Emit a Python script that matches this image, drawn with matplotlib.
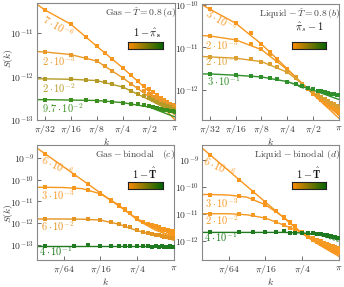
import numpy as np
import matplotlib
matplotlib.use('Agg')
import matplotlib.pyplot as plt
from matplotlib.colors import LinearSegmentedColormap
from matplotlib.ticker import FixedLocator, FixedFormatter, FuncFormatter, NullLocator, LogLocator

plt.rcParams['mathtext.fontset'] = 'cm'
plt.rcParams['font.family'] = 'serif'
plt.rcParams['font.size'] = 7

# k in units of pi, S(k) as log10 values
n_ab = np.array([1, 2, 3, 4, 5, 6, 8, 10, 12, 14, 16, 18, 20, 22, 24, 26, 28, 30, 32])
k_ab = n_ab / 32
n_cd = np.array([1, 3, 5, 8, 12, 16, 20, 24, 32, 40, 48, 56, 64, 72, 80, 88, 96, 104, 112, 120, 128])
k_cd = n_cd / 128
kline_ab = [2**-5.3, 1/32, 1/16, 1/8, 1/4, 1/2, 1]
kline_cd = [2**-7.45, 1/128, 1/64, 1/32, 1/16, 1/8, 1/4, 1/2, 1]

# panel (a) gas, T=0.8
Sa = [[-10.46, -10.79, -11.09, -11.30, -11.46, -11.59, -11.80, -11.97, -12.10, -12.21, -12.29, -12.36, -12.43, -12.49, -12.54, -12.59, -12.64, -12.68, -12.72],
      [-11.43, -11.49, -11.56, -11.64, -11.76, -11.87, -12.03, -12.16, -12.26, -12.34, -12.41, -12.46, -12.50, -12.54, -12.57, -12.60, -12.63, -12.65, -12.67],
      [-12.05, -12.06, -12.07, -12.09, -12.13, -12.17, -12.24, -12.32, -12.39, -12.45, -12.50, -12.54, -12.58, -12.62, -12.65, -12.68, -12.71, -12.74, -12.77],
      [-12.53, -12.54, -12.54, -12.55, -12.56, -12.58, -12.60, -12.62, -12.64, -12.66, -12.68, -12.70, -12.72, -12.74, -12.76, -12.77, -12.79, -12.80, -12.81]]
Sa_fit = [[-10.33, -10.46, -10.79, -11.30, -11.80, -12.34, -13.00],
          [-11.42, -11.43, -11.49, -11.64, -12.03, -12.46, -12.88],
          [-12.05, -12.05, -12.06, -12.09, -12.24, -12.53, -12.84],
          [-12.53, -12.53, -12.54, -12.55, -12.60, -12.70, -12.93]]
labels_a = [r'$\mathbf{7\cdot10^{-6}}$', r'$\mathbf{2\cdot10^{-3}}$', r'$\mathbf{2\cdot10^{-2}}$', r'$\mathbf{9.7\cdot10^{-2}}$']

# panel (b) liquid, T=0.8
Sb = [[-10.10, -10.43, -10.67, -10.92, -11.11, -11.28, -11.50, -11.69, -11.85, -11.98, -12.08, -12.16, -12.23, -12.29, -12.35, -12.40, -12.44, -12.49, -12.54],
      [-10.73, -10.82, -10.92, -11.03, -11.15, -11.31, -11.52, -11.70, -11.85, -11.97, -12.06, -12.14, -12.20, -12.26, -12.31, -12.36, -12.40, -12.44, -12.48],
      [-11.22, -11.25, -11.28, -11.33, -11.39, -11.46, -11.58, -11.72, -11.85, -11.95, -12.03, -12.09, -12.15, -12.20, -12.25, -12.29, -12.33, -12.37, -12.40],
      [-11.62, -11.65, -11.67, -11.69, -11.72, -11.75, -11.80, -11.86, -11.91, -11.95, -11.98, -12.01, -12.03, -12.05, -12.07, -12.08, -12.09, -12.11, -12.12]]
Sb_fit = [[-10.00, -10.10, -10.43, -10.92, -11.50, -12.10, -12.66],
          [-10.72, -10.73, -10.82, -11.05, -11.52, -12.08, -12.59],
          [-11.21, -11.22, -11.25, -11.33, -11.58, -12.05, -12.47],
          [-11.62, -11.62, -11.65, -11.69, -11.80, -12.00, -12.22]]
labels_b = [r'$\mathbf{3\cdot10^{-5}}$', r'$\mathbf{2\cdot10^{-3}}$', r'$\mathbf{2\cdot10^{-2}}$', r'$\mathbf{3\cdot10^{-1}}$']

# panel (c) gas, binodal
Sc = [[-8.81, -9.76, -10.20, -10.61, -10.96, -11.21, -11.40, -11.55, -11.78, -11.93, -12.03, -12.10, -12.15, -12.20, -12.25, -12.30, -12.34, -12.38, -12.42, -12.46, -12.49],
      [-10.35, -10.38, -10.48, -10.65, -10.92, -11.15, -11.36, -11.55, -11.80, -11.96, -12.06, -12.12, -12.17, -12.21, -12.25, -12.28, -12.31, -12.33, -12.35, -12.37, -12.38],
      [-11.81, -11.81, -11.83, -11.86, -11.95, -12.04, -12.12, -12.20, -12.32, -12.40, -12.46, -12.51, -12.54, -12.57, -12.60, -12.62, -12.64, -12.65, -12.67, -12.68, -12.69],
      [-13.07, -13.06, -13.00, -13.07, -13.06, -13.07, -13.06, -13.07, -13.07, -13.06, -13.07, -13.08, -13.07, -13.08, -13.07, -13.08, -13.08, -13.08, -13.07, -13.08, -13.08]]
Sc_fit = [[-8.54, -8.81, -9.41, -10.01, -10.61, -11.21, -11.80, -12.25, -12.76],
          [-10.35, -10.35, -10.36, -10.41, -10.65, -11.17, -11.85, -12.33, -12.61],
          [-11.81, -11.81, -11.81, -11.82, -11.86, -12.05, -12.35, -12.56, -12.79],
          [-13.07, -13.07, -13.07, -13.07, -13.07, -13.07, -13.07, -13.07, -13.07]]
labels_c = [r'$\mathbf{6\cdot10^{-6}}$', r'$\mathbf{3\cdot10^{-3}}$', r'$\mathbf{6\cdot10^{-2}}$', r'$\mathbf{4\cdot10^{-1}}$']

# panel (d) liquid, binodal
Sd = [[-8.82, -9.74, -10.17, -10.56, -10.90, -11.14, -11.33, -11.48, -11.70, -11.84, -11.95, -12.04, -12.10, -12.16, -12.22, -12.27, -12.31, -12.35, -12.38, -12.41, -12.44],
      [-10.28, -10.33, -10.43, -10.66, -10.90, -11.10, -11.30, -11.46, -11.70, -11.85, -11.96, -12.04, -12.10, -12.15, -12.20, -12.24, -12.28, -12.31, -12.34, -12.36, -12.38],
      [-10.99, -11.00, -11.04, -11.15, -11.28, -11.40, -11.50, -11.58, -11.68, -11.79, -11.88, -11.95, -12.01, -12.06, -12.10, -12.14, -12.17, -12.20, -12.22, -12.24, -12.26],
      [-11.68, -11.67, -11.68, -11.66, -11.68, -11.63, -11.69, -11.70, -11.70, -11.71, -11.72, -11.74, -11.75, -11.77, -11.79, -11.81, -11.83, -11.85, -11.86, -11.88, -11.89]]
Sd_fit = [[-8.56, -8.82, -9.40, -9.98, -10.56, -11.14, -11.72, -12.17, -12.57],
          [-10.28, -10.28, -10.30, -10.38, -10.66, -11.12, -11.72, -12.16, -12.50],
          [-10.99, -10.99, -10.99, -11.03, -11.15, -11.41, -11.69, -12.05, -12.38],
          [-11.68, -11.68, -11.68, -11.68, -11.68, -11.68, -11.70, -11.76, -11.95]]
labels_d = [r'$\mathbf{6\cdot10^{-6}}$', r'$\mathbf{3\cdot10^{-3}}$', r'$\mathbf{2\cdot10^{-2}}$', r'$\mathbf{4\cdot10^{-1}}$']

# dashed green asymptotes at large k (b and d)
kdash = [1/4, 1/2, 1]
Sb_dash = [-11.80, -12.05, -12.50]
Sd_dash = [-11.70, -11.80, -12.02]

colors_a = ['#f8961e', '#eb9a2a', '#b59a25', '#3a8f1e']
colors_b = ['#f8961e', '#f39a22', '#dca030', '#2f8f2a']
colors_c = ['#f8961e', '#f7981e', '#e49420', '#1f7a1f']
colors_d = ['#f8961e', '#f8961e', '#f59a22', '#1f7a1f']

cmap = LinearSegmentedColormap.from_list('og', ['#ff8c00', '#006400'])

W, H = 344, 287
fig = plt.figure(figsize=(W/100, H/100), dpi=100)


def px_axes(l, t, r, b):
    return fig.add_axes([l/W, 1 - b/H, (r - l)/W, (b - t)/H])


panels = [
    dict(box=(37, 3, 175, 120), k=k_ab, S=Sa, kf=kline_ab, Sf=Sa_fit, col=colors_a, lab=labels_a,
         ylim=(-13.0, -10.3), xlim=2**-5.3, xt=[1/32, 1/16, 1/8, 1/4, 1/2, 1],
         xtl=[r'$\pi/32$', r'$\pi/16$', r'$\pi/8$', r'$\pi/4$', r'$\pi/2$', r'$\pi$'],
         title=r'$\mathrm{Gas}-\hat{T}=0.8\,(a)$', cbt=r'$\mathbf{1-\hat{\pi}_s}$',
         lpos=[(0.15, 0.80, -30, 'center'), (0.035, 0.50, 0, 'left'), (0.035, 0.27, 0, 'left'), (0.035, 0.10, 0, 'left')],
         cb=(0.66, 0.61, 0.255, 0.06), cbtp=(0.80, 0.745), ylab=(-0.16, 0.53), dash=None),
    dict(box=(202, 4, 339, 120), k=k_ab, S=Sb, kf=kline_ab, Sf=Sb_fit, col=colors_b, lab=labels_b,
         ylim=(-12.7, -9.98), xlim=2**-5.3, xt=[1/32, 1/16, 1/8, 1/4, 1/2, 1],
         xtl=[r'$\pi/32$', r'$\pi/16$', r'$\pi/8$', r'$\pi/4$', r'$\pi/2$', r'$\pi$'],
         title=r'$\mathrm{Liquid}-\hat{T}=0.8\,(b)$', cbt=r'$\hat{\pi}_s-\mathbf{1}$',
         lpos=[(0.135, 0.855, -30, 'center'), (0.02, 0.647, 0, 'left'), (0.02, 0.503, 0, 'left'), (0.036, 0.339, 0, 'left')],
         cb=(0.657, 0.61, 0.25, 0.06), cbtp=(0.78, 0.80), ylab=None, dash=Sb_dash),
    dict(box=(37, 145, 174, 260), k=k_cd, S=Sc, kf=kline_cd, Sf=Sc_fit, col=colors_c, lab=labels_c,
         ylim=(-13.7, -8.4), xlim=2**-7.45, xt=[1/64, 1/16, 1/4, 1],
         xtl=[r'$\pi/64$', r'$\pi/16$', r'$\pi/4$', r'$\pi$'],
         title=r'$\mathrm{Gas}-\mathrm{binodal}\quad(c)$', cbt=r'$\mathbf{1-\hat{T}}$',
         lpos=[(0.144, 0.815, -25, 'center'), (0.027, 0.56, 0, 'left'), (0.027, 0.293, 0, 'left'), (0.017, 0.076, 0, 'left')],
         cb=(0.664, 0.62, 0.255, 0.056), cbtp=(0.79, 0.75), ylab=(-0.16, 0.41), dash=None),
    dict(box=(202, 145, 339, 260), k=k_cd, S=Sd, kf=kline_cd, Sf=Sd_fit, col=colors_d, lab=labels_d,
         ylim=(-12.7, -8.45), xlim=2**-7.45, xt=[1/64, 1/16, 1/4, 1],
         xtl=[r'$\pi/64$', r'$\pi/16$', r'$\pi/4$', r'$\pi$'],
         title=r'$\mathrm{Liquid}-\mathrm{binodal}\ (d)$', cbt=r'$\mathbf{1-\hat{T}}$',
         lpos=[(0.122, 0.807, -25, 'center'), (0.024, 0.49, 0, 'left'), (0.024, 0.35, 0, 'left'), (0.012, 0.20, 0, 'left')],
         cb=(0.657, 0.62, 0.25, 0.056), cbtp=(0.78, 0.75), ylab=None, dash=Sd_dash),
]

grad = np.linspace(0, 1, 256).reshape(1, -1)

for p in panels:
    ax = px_axes(*p['box'])
    ax.set_xscale('log', base=2)
    ax.set_yscale('log')
    for i in range(4):
        ax.plot(p['kf'], 10**np.array(p['Sf'][i]), color=p['col'][i], lw=1.0, zorder=2)
        ax.plot(p['k'], 10**np.array(p['S'][i]), 's', color=p['col'][i], ms=2.2, mew=0, zorder=3)
        x, y, rot, ha = p['lpos'][i]
        ax.text(x, y, p['lab'][i], transform=ax.transAxes, color=p['col'][i], fontsize=7.5,
                rotation=rot, ha=ha, va='center', rotation_mode='anchor')
    if p['dash'] is not None:
        ax.plot(kdash, 10**np.array(p['dash']), '--', color=p['col'][3], lw=0.8, dashes=(2, 1.5), zorder=2)
    ax.set_xlim(p['xlim'], 1)
    ax.set_ylim(10**p['ylim'][0], 10**p['ylim'][1])
    ax.xaxis.set_major_locator(FixedLocator(p['xt']))
    ax.xaxis.set_major_formatter(FixedFormatter(p['xtl']))
    ax.xaxis.set_minor_locator(NullLocator())
    ax.yaxis.set_major_locator(LogLocator(base=10, numticks=10))
    ax.yaxis.set_major_formatter(FuncFormatter(lambda v, pos: r'$10^{%d}$' % round(np.log10(v))))
    ax.yaxis.set_minor_locator(NullLocator())
    ax.tick_params(direction='in', length=3, width=0.6, labelsize=7, pad=2, colors='#555555', labelcolor='#333333')
    for s in ax.spines.values():
        s.set_color('#888888')
        s.set_linewidth(0.8)
    ax.set_xlabel(r'$k$', fontsize=7, labelpad=0, color='#333333')
    if p['ylab'] is not None:
        ax.set_ylabel(r'$S(k)$', fontsize=7, color='#333333')
        ax.yaxis.set_label_coords(*p['ylab'])
    ax.text(1.01, 0.915, p['title'], transform=ax.transAxes, ha='right', va='center', fontsize=7, color='#444444')
    # colour-bar legend
    cax = ax.inset_axes(p['cb'])
    cax.imshow(grad, aspect='auto', cmap=cmap)
    cax.set_xticks([])
    cax.set_yticks([])
    for s in cax.spines.values():
        s.set_color('#222222')
        s.set_linewidth(0.8)
    ax.text(p['cbtp'][0], p['cbtp'][1], p['cbt'], transform=ax.transAxes, ha='center', va='center', fontsize=7.5, color='#111111')

fig.savefig('out.png', dpi=100)
